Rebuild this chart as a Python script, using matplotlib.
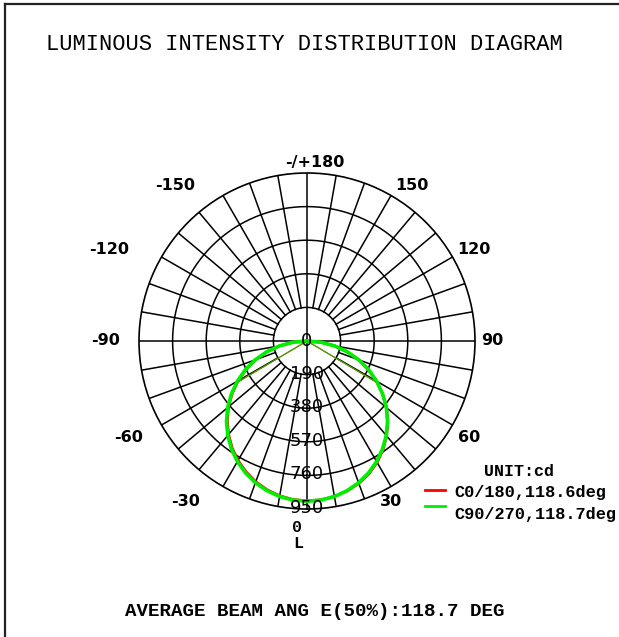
import numpy as np
import matplotlib
matplotlib.use("Agg")
import matplotlib.pyplot as plt
from matplotlib.lines import Line2D

# ---- data ----
angles = [0, 5, 10, 15, 20, 25, 30, 35, 40, 45, 50, 55, 60, 65, 70, 75, 80, 85, 90]
c0_right = [904, 902, 893, 878, 857, 829, 793, 750, 700, 646, 587, 522, 454, 383, 310, 234, 157, 78, 0]
c180_left = [904, 900, 889, 871, 847, 816, 780, 738, 690, 637, 579, 516, 450, 380, 308, 233, 156, 78, 0]
c90_270 = [906, 903, 893, 876, 853, 823, 787, 745, 697, 644, 586, 522, 455, 385, 312, 236, 158, 78, 0]
beam_c0 = 118.6
beam_c90 = 118.7
beam_avg = 118.7
rings = [190, 380, 570, 760, 950]
angle_labels = ["-/+180", "150", "-150", "120", "-120", "90", "-90", "60", "-60", "30", "-30"]

W, H = 619, 637
fig = plt.figure(figsize=(W / 100, H / 100), dpi=100)

def fx(px):
    return px / W

def fy(py):
    return 1 - py / H

cx, cy, R = 307, 341, 168
ax = fig.add_axes([fx(cx - R), fy(cy + R), 2 * R / W, 2 * R / H], projection="polar")
ax.set_theta_zero_location("S")
ax.set_theta_direction(1)
ax.set_ylim(0, rings[-1])
ax.grid(False)
ax.set_xticks([])
ax.set_yticks([])
ax.spines["polar"].set_linewidth(1.2)
ax.spines["polar"].set_color("black")

# grid circles
tt = np.linspace(0, 2 * np.pi, 721)
for r in rings[:-1]:
    ax.plot(tt, np.full_like(tt, r), color="black", lw=1.1, zorder=1)
# spokes
for a in range(0, 360, 10):
    r0 = 0 if a % 90 == 0 else rings[0]
    ax.plot([np.radians(a)] * 2, [r0, rings[-1]], color="black", lw=1.1, zorder=1)

# curves
ang = np.array(angles, dtype=float)
red_th = np.concatenate([-ang[::-1], ang[1:]])
red_r = np.concatenate([np.array(c180_left)[::-1], np.array(c0_right)[1:]])
grn_r = np.concatenate([np.array(c90_270)[::-1], np.array(c90_270)[1:]])
ax.plot(np.radians(red_th), red_r, color="#ff0000", lw=2.0, zorder=3)
ax.plot(np.radians(red_th), grn_r, color="#00ee00", lw=2.6, zorder=4)

# beam angle lines
imax_r = max(c0_right)
imax_g = max(c90_270)
for s in (-1, 1):
    ax.plot([np.radians(s * beam_c0 / 2)] * 2, [0, imax_r / 2], color="#ff0000", lw=0.8, zorder=3)
    ax.plot([np.radians(s * beam_c90 / 2)] * 2, [0, imax_g / 2], color="#22bb00", lw=0.8, zorder=4)

# ring labels
ax.text(0, 0, "0", ha="center", va="center", fontsize=13, family="DejaVu Sans", zorder=5)
for r in rings:
    ax.text(0, r - 6, str(r), ha="center", va="center", fontsize=13, family="DejaVu Sans", zorder=5)

# angle labels
label_pos = {"-/+180": (315, 163), "150": (412, 186), "-150": (175, 186),
             "120": (474, 250), "-120": (109, 250), "90": (492, 341), "-90": (106, 341),
             "60": (469, 438), "-60": (129, 438), "30": (391, 502), "-30": (186, 502)}
for lab in angle_labels:
    px, py = label_pos[lab]
    fig.text(fx(px), fy(py), lab, ha="center", va="center", fontsize=11.5,
             fontweight="bold", family="DejaVu Sans")
fig.text(fx(297), fy(527), "0", ha="center", va="center", fontsize=12,
         fontweight="bold", family="Liberation Mono")
fig.text(fx(298), fy(543), "L", ha="center", va="center", fontsize=12,
         fontweight="bold", family="Liberation Mono")

# title & footer
fig.text(fx(304), fy(45), "LUMINOUS INTENSITY DISTRIBUTION DIAGRAM", ha="center", va="center",
         fontsize=15.9, family="Liberation Mono")
fig.text(fx(315), fy(612), "AVERAGE BEAM ANG E(50%%):%.1f DEG" % beam_avg, ha="center", va="center",
         fontsize=13.8, fontweight="bold", family="Liberation Mono")

# legend
fig.text(fx(519), fy(472), "UNIT:cd", ha="center", va="center", fontsize=12,
         fontweight="bold", family="Liberation Mono")
fig.add_artist(Line2D([fx(425), fx(445)], [fy(490), fy(490)], color="#ff0000", lw=2))
fig.add_artist(Line2D([fx(425), fx(445)], [fy(506), fy(506)], color="#00ee00", lw=2))
fig.text(fx(454), fy(493), "C0/180,%.1fdeg" % beam_c0, ha="left", va="center", fontsize=12.2,
         fontweight="bold", family="Liberation Mono")
fig.text(fx(454), fy(515), "C90/270,%.1fdeg" % beam_c90, ha="left", va="center", fontsize=12.2,
         fontweight="bold", family="Liberation Mono")

# frame
fig.add_artist(Line2D([fx(5), fx(5)], [fy(4), 0], color="#222222", lw=1.6))
fig.add_artist(Line2D([fx(5), 1], [fy(4), fy(4)], color="#222222", lw=1.6))

fig.savefig("out.png", dpi=100)
